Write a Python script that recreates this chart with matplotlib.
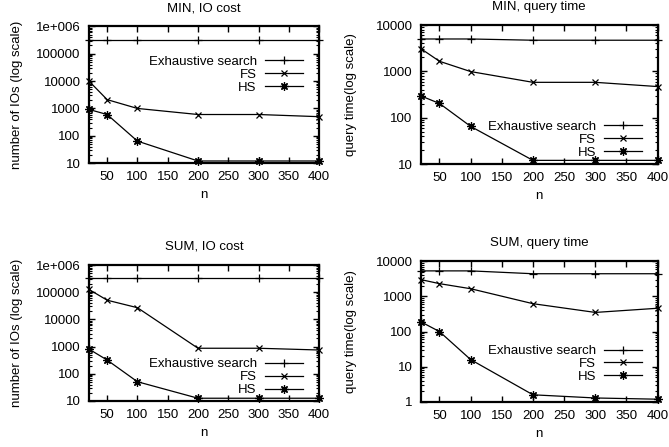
import matplotlib
matplotlib.use("Agg")
import matplotlib.pyplot as plt
from matplotlib.ticker import FixedLocator, FixedFormatter, LogLocator, NullFormatter

plt.rcParams['font.family'] = ['Liberation Sans', 'DejaVu Sans']
plt.rcParams['font.size'] = 9.5

n = [20, 50, 100, 200, 300, 400]

# MIN, IO cost
min_io_exh = [310000, 310000, 310000, 310000, 310000, 310000]
min_io_fs = [10000, 2100, 1000, 600, 600, 500]
min_io_hs = [920, 600, 64, 12, 12, 12]

# MIN, query time
min_qt_exh = [5000, 5000, 5000, 4700, 4700, 4700]
min_qt_fs = [3100, 1650, 990, 580, 580, 470]
min_qt_hs = [296, 203, 65, 12, 12, 12]

# SUM, IO cost
sum_io_exh = [330000, 330000, 330000, 330000, 330000, 330000]
sum_io_fs = [127000, 51000, 27000, 870, 870, 750]
sum_io_hs = [810, 320, 51, 12.6, 12.6, 12.6]

# SUM, query time
sum_qt_exh = [5300, 5300, 5300, 4400, 4400, 4400]
sum_qt_fs = [3000, 2300, 1650, 620, 350, 460]
sum_qt_hs = [190, 100, 16, 1.6, 1.3, 1.2]

io_ticks = [10, 100, 1000, 10000, 100000, 1e6]
io_labels = ['10', '100', '1000', '10000', '100000', '1e+006']
qt_ticks = [10, 100, 1000, 10000]
qt_labels = ['10', '100', '1000', '10000']
qt2_ticks = [1, 10, 100, 1000, 10000]
qt2_labels = ['1', '10', '100', '1000', '10000']

fig = plt.figure(figsize=(6.69, 4.47), dpi=100)

panels = [
    # rect, title, ylabel, exh, fs, hs, ticks, labels, ylim, legend anchor, ylabel pad
    ([0.133, 0.635, 0.344, 0.306], 'MIN, IO cost', 'number of IOs (log scale)',
     min_io_exh, min_io_fs, min_io_hs, io_ticks, io_labels, (10, 1e6), (0.93, 0.785), 9.5),
    ([0.629, 0.633, 0.354, 0.311], 'MIN, query time', 'query time(log scale)',
     min_qt_exh, min_qt_fs, min_qt_hs, qt_ticks, qt_labels, (10, 10000), (0.935, 0.312), 13.5),
    ([0.133, 0.103, 0.344, 0.304], 'SUM, IO cost', 'number of IOs (log scale)',
     sum_io_exh, sum_io_fs, sum_io_hs, io_ticks, io_labels, (10, 1e6), (0.93, 0.315), 9.5),
    ([0.629, 0.1007, 0.354, 0.315], 'SUM, query time', 'query time(log scale)',
     sum_qt_exh, sum_qt_fs, sum_qt_hs, qt2_ticks, qt2_labels, (1, 10000), (0.935, 0.405), 13.5),
]

for rect, title, ylabel, exh, fs, hs, ticks, labels, ylim, anchor, ypad in panels:
    ax = fig.add_axes(rect)
    ax.plot(n, exh, color='black', lw=0.9, marker='+', ms=6, mew=0.9,
            clip_on=False, label='Exhaustive search')
    ax.plot(n, fs, color='black', lw=0.9, marker='x', ms=5, mew=0.9,
            clip_on=False, label='FS')
    ax.plot(n, hs, color='black', lw=0.9, marker=(8, 2, 0), ms=6, mew=0.9,
            clip_on=False, label='HS')
    ax.set_yscale('log')
    ax.set_xlim(20, 400)
    ax.set_ylim(*ylim)
    ax.set_xticks([50, 100, 150, 200, 250, 300, 350, 400])
    ax.yaxis.set_major_locator(FixedLocator(ticks))
    ax.yaxis.set_major_formatter(FixedFormatter(labels))
    ax.yaxis.set_minor_locator(LogLocator(base=10, subs=range(2, 10)))
    ax.yaxis.set_minor_formatter(NullFormatter())
    ax.tick_params(which='major', direction='in', top=True, right=True,
                   length=4, width=1, pad=6)
    ax.tick_params(which='minor', direction='in', top=True, right=True,
                   length=2, width=0.8)
    for s in ax.spines.values():
        s.set_linewidth(1.6)
    ax.set_title(title, fontsize=9.5, pad=11)
    ax.set_ylabel(ylabel, labelpad=ypad)
    ax.set_xlabel('n', labelpad=4)
    ax.legend(loc='upper right', bbox_to_anchor=anchor, frameon=False,
              markerfirst=False, borderpad=0, handlelength=2.9,
              handletextpad=0.6, labelspacing=0.05, borderaxespad=0)

fig.savefig('out.png', dpi=100)
